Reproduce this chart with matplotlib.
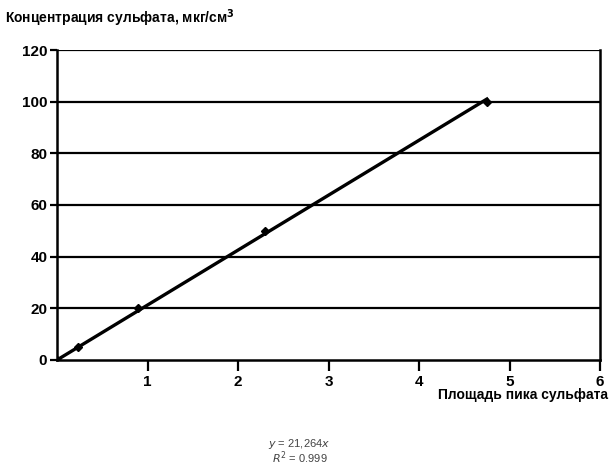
import matplotlib
matplotlib.use("Agg")
import matplotlib.pyplot as plt

# calibration points: peak area vs sulfate concentration
peak_area = [0, 0.23, 0.9, 2.3, 4.75]
concentration = [0, 5, 20, 50, 100]
slope = 21.264
fit_x = [0, 4.75]
x_ticks = [1, 2, 3, 4, 5, 6]
y_ticks = [0, 20, 40, 60, 80, 100, 120]

plt.rcParams["font.family"] = ["Liberation Sans", "DejaVu Sans"]

fig = plt.figure(figsize=(6.11, 4.66), dpi=100)
ax = fig.add_axes([0.0933, 0.2275, 0.8887, 0.6652])

for yv in y_ticks[1:]:
    ax.axhline(yv, color="black", lw=1.6, zorder=1)

ax.plot(fit_x, [slope * v for v in fit_x], color="black", lw=2.4, zorder=3)
ax.plot(peak_area, concentration, linestyle="none", marker="D", ms=4,
        color="black", zorder=4)

ax.set_xlim(0, 6)
ax.set_ylim(0, 120)
ax.set_xticks(x_ticks)
ax.set_yticks(y_ticks)
ax.tick_params(axis="x", direction="out", length=8, width=1.6, pad=3,
               labelsize=11)
ax.tick_params(axis="y", direction="out", length=5, width=1.6, pad=2,
               labelsize=11)
for lab in ax.get_xticklabels() + ax.get_yticklabels():
    lab.set_fontweight("bold")

for side in ["left", "bottom", "right"]:
    ax.spines[side].set_linewidth(1.8)
ax.spines["top"].set_visible(False)

fig.text(0.008, 0.962, "Концентрация сульфата, мкг/см$^\\mathbf{3}$",
         fontsize=10, fontweight="bold", ha="left", va="center")
fig.text(0.995, 0.152, "Площадь пика сульфата", fontsize=10,
         fontweight="bold", ha="right", va="center")

fig.text(0.49, 0.047, "$y$ = 21,264$x$", fontsize=8, color="#444444",
         ha="center", va="center")
fig.text(0.49, 0.017, "$R^2$ = 0.999", fontsize=8, color="#444444",
         ha="center", va="center")

fig.savefig("out.png", dpi=100)
